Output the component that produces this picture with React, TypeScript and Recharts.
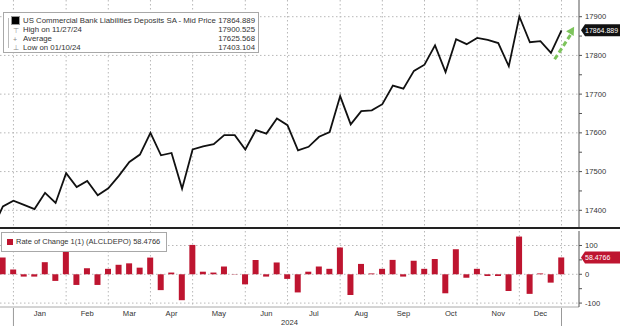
import React from 'react';
import {
  ComposedChart,
  Line,
  Bar,
  XAxis,
  YAxis,
  CartesianGrid,
  ReferenceLine,
  ReferenceDot,
  Label,
} from 'recharts';

// weekly observations (H.8, Wednesdays)
const weeks = [
  '12/13/23', '12/20/23', '12/27/23',
  '01/03/24', '01/10/24', '01/17/24', '01/24/24', '01/31/24',
  '02/07/24', '02/14/24', '02/21/24', '02/28/24',
  '03/06/24', '03/13/24', '03/20/24', '03/27/24',
  '04/03/24', '04/10/24', '04/17/24', '04/24/24',
  '05/01/24', '05/08/24', '05/15/24', '05/22/24', '05/29/24',
  '06/05/24', '06/12/24', '06/19/24', '06/26/24',
  '07/03/24', '07/10/24', '07/17/24', '07/24/24', '07/31/24',
  '08/07/24', '08/14/24', '08/21/24', '08/28/24',
  '09/04/24', '09/11/24', '09/18/24', '09/25/24',
  '10/02/24', '10/09/24', '10/16/24', '10/23/24', '10/30/24',
  '11/06/24', '11/13/24', '11/20/24', '11/27/24',
  '12/04/24', '12/11/24', '12/18/24', '12/25/24',
];

// deposits, $bn
const deposits = [
  17352, 17410, 17425,
  17414, 17403.1, 17445, 17419, 17496,
  17460, 17476, 17439, 17457,
  17489, 17525, 17544, 17600,
  17542, 17548, 17456, 17557,
  17565, 17571, 17594, 17594, 17557,
  17607, 17598, 17637, 17620,
  17555, 17564, 17590, 17602, 17695,
  17622, 17656, 17658, 17674,
  17722, 17714, 17760, 17776,
  17826, 17757, 17842, 17829, 17845,
  17840, 17832, 17772, 17900.5,
  17834, 17837, 17806.4, 17864.889,
];

// week-on-week change
const rateOfChange = [
  null, 58, 17,
  -8, -8, 42, -23, 81,
  -37, 21, -37, 19,
  33, 38, 23, 58,
  -55, 6, -90, 102,
  9, 6, 27, 1, -35,
  50, -8, 41, -16,
  -63, 9, 27, 19, 93,
  -72, 36, 3, 19,
  50, -8, 47, 19,
  53, -66, 87, -12, 19,
  -6, -6, -58, 131,
  -68, 3, -29, 58.4766,
];

const monthNames = ['Jan', 'Feb', 'Mar', 'Apr', 'May', 'Jun', 'Jul', 'Aug', 'Sep', 'Oct', 'Nov', 'Dec'];
const depositTicks = [17400, 17450, 17500, 17550, 17600, 17650, 17700, 17750, 17800, 17850, 17900];
const depositGrid = [17400, 17500, 17600, 17700, 17800, 17900];
const rocTicks = [-100, -50, 0, 50, 100];
const rocGrid = [-100, 0, 100];

const rows = weeks.map((d, i) => ({
  n: i - 1,
  date: d,
  deposits: deposits[i],
  roc: rateOfChange[i],
}));

// a gridline sits on the last week of every month
const monthEdges = rows
  .filter((r, i) => !rows[i + 1] || rows[i + 1].date.slice(0, 2) !== r.date.slice(0, 2))
  .map((r) => r.n)
  .filter((n) => n >= 0);
const monthMids = monthEdges.slice(1).map((e, i) => (e + monthEdges[i]) / 2);
const yearEdges = [monthEdges[0], monthEdges[monthEdges.length - 1]];

const X_DOMAIN: [number, number] = [-0.275, 54.66];
const TOP_DOMAIN: [number, number] = [17354.3, 17943.1];
const BOT_DOMAIN: [number, number] = [-113.6, 150.3];
const FONT = '"Liberation Sans", Arial, sans-serif';
const GRID = '#b8b8b8';
const AXIS = '#555';

const lastDeposit = deposits[deposits.length - 1];
const lastRoc = rateOfChange[rateOfChange.length - 1] as number;

const AxisTick = (props: any) => {
  const { x, y, payload } = props;
  if (payload.value % 100 !== 0) return null;
  return (
    <text x={x} y={y + 2.6} fontSize={7.6} fill="#333" fontFamily={FONT}>
      {payload.value}
    </text>
  );
};

const MonthTick = (props: any) => {
  const { x, y, payload } = props;
  if (yearEdges.includes(payload.value)) {
    return <line x1={x} x2={x} y1={y + 1} y2={y + 21} stroke="#999" strokeWidth={1} />;
  }
  const idx = monthMids.indexOf(payload.value);
  return (
    <text x={x} y={y + 9} textAnchor="middle" fontSize={7.6} fill="#333" fontFamily={FONT}>
      {monthNames[idx]}
    </text>
  );
};

const valueTag = (text: string, fill: string) => (props: any) => {
  const { viewBox } = props;
  const x0 = viewBox.x + viewBox.width + 2;
  const y = viewBox.y;
  const x1 = 620;
  return (
    <g>
      <path
        d={`M${x0},${y} L${x0 + 4},${y - 6} L${x1},${y - 6} L${x1},${y + 6} L${x0 + 4},${y + 6} Z`}
        fill={fill}
      />
      <text x={x0 + 4} y={y + 2.6} fontSize={7} fill="#fff" fontFamily={FONT}>
        {text}
      </text>
    </g>
  );
};

const ArrowHead = (props: any) => {
  const { cx, cy } = props;
  if (cx == null || cy == null) return null;
  const ux = 0.533;
  const uy = -0.846;
  const bx = cx - 8 * ux;
  const by = cy - 8 * uy;
  const px = -uy * 4.5;
  const py = ux * 4.5;
  return (
    <polygon
      points={`${cx},${cy} ${bx + px},${by + py} ${bx - px},${by - py}`}
      fill="#7dc45c"
    />
  );
};

const legendRow: React.CSSProperties = {
  position: 'absolute',
  left: 19,
  right: 3,
  height: 9,
  lineHeight: '9px',
  display: 'flex',
  justifyContent: 'space-between',
  whiteSpace: 'nowrap',
};

export default function App() {
  return (
    <div
      style={{
        position: 'absolute',
        left: 0,
        top: 0,
        width: 620,
        height: 326,
        background: '#fff',
        overflow: 'hidden',
        fontFamily: FONT,
      }}
    >
      <div style={{ position: 'absolute', left: 0, top: 0 }}>
        <ComposedChart width={620} height={228} data={rows} margin={{ top: 0, right: 0, bottom: 0, left: 0 }}>
          <CartesianGrid
            stroke={GRID}
            strokeDasharray="1.5 2.5"
            horizontalValues={depositGrid}
            verticalValues={monthEdges}
          />
          <XAxis type="number" dataKey="n" domain={X_DOMAIN} allowDataOverflow hide />
          <YAxis
            orientation="right"
            width={41}
            domain={TOP_DOMAIN}
            allowDataOverflow
            ticks={depositTicks}
            interval={0}
            tickSize={3}
            tickMargin={3}
            axisLine={{ stroke: AXIS }}
            tickLine={{ stroke: AXIS }}
            tick={<AxisTick />}
          />
          <Line
            type="linear"
            dataKey="deposits"
            stroke="#111"
            strokeWidth={1.8}
            dot={false}
            activeDot={false}
            isAnimationActive={false}
          />
          <ReferenceLine
            segment={[
              { x: 52.35, y: 17790 },
              { x: 53.85, y: 17853 },
            ]}
            stroke="#7dc45c"
            strokeWidth={3}
            strokeDasharray="5 3"
            ifOverflow="visible"
          />
          <ReferenceDot x={54.2} y={17874} r={0} shape={<ArrowHead />} ifOverflow="visible" />
          <ReferenceLine
            y={lastDeposit}
            stroke="none"
            label={valueTag(lastDeposit.toFixed(3), '#111')}
          />
        </ComposedChart>
      </div>

      <div style={{ position: 'absolute', left: 0, top: 227, width: 620, height: 2, background: '#222' }} />

      <div style={{ position: 'absolute', left: 0, top: 230 }}>
        <ComposedChart width={620} height={96} data={rows} margin={{ top: 1, right: 0, bottom: 0, left: 0 }}>
          <CartesianGrid
            stroke={GRID}
            strokeDasharray="1.5 2.5"
            horizontalValues={rocGrid}
            verticalValues={monthEdges}
          />
          <XAxis
            type="number"
            dataKey="n"
            domain={X_DOMAIN}
            allowDataOverflow
            ticks={[...monthMids, ...yearEdges]}
            interval={0}
            height={19}
            tickSize={0}
            tickMargin={0}
            tickLine={false}
            axisLine={{ stroke: '#aaa' }}
            tick={<MonthTick />}
          >
            <Label
              content={(p: any) => (
                <text
                  x={p.viewBox.x + p.viewBox.width / 2}
                  y={p.viewBox.y + 17.5}
                  textAnchor="middle"
                  fontSize={7.6}
                  fill="#333"
                  fontFamily={FONT}
                >
                  2024
                </text>
              )}
            />
          </XAxis>
          <YAxis
            orientation="right"
            width={41}
            domain={BOT_DOMAIN}
            allowDataOverflow
            ticks={rocTicks}
            interval={0}
            tickSize={3}
            tickMargin={3}
            axisLine={{ stroke: AXIS }}
            tickLine={{ stroke: AXIS }}
            tick={<AxisTick />}
          />
          <Bar dataKey="roc" fill="#be1530" barSize={6} isAnimationActive={false} />
          <ReferenceLine y={lastRoc} stroke="none" label={valueTag(String(lastRoc), '#be1530')} />
        </ComposedChart>
      </div>

      {/* top legend */}
      <div
        style={{
          position: 'absolute',
          left: 3,
          top: 12,
          width: 254,
          height: 39,
          border: '1px solid #a8a8a8',
          background: '#fff',
          fontSize: 7.8,
          color: '#333',
        }}
      >
        <div style={{ position: 'absolute', left: 4, top: 5, width: 1, height: 30, background: '#bbb' }} />
        <div
          style={{
            position: 'absolute',
            left: 8,
            top: 4,
            width: 7,
            height: 7,
            background: '#000',
            outline: '1px solid #999',
          }}
        />
        <div style={{ position: 'absolute', left: 9, top: 13, fontSize: 7, color: '#888', lineHeight: '9px' }}>⊤</div>
        <div style={{ position: 'absolute', left: 9, top: 22, fontSize: 7, color: '#888', lineHeight: '9px' }}>+</div>
        <div style={{ position: 'absolute', left: 9, top: 30, fontSize: 7, color: '#888', lineHeight: '9px' }}>⊥</div>
        <div style={{ ...legendRow, top: 3 }}>
          <span>US Commercial Bank Liabilities Deposits SA - Mid Price</span>
          <span>17864.889</span>
        </div>
        <div style={{ ...legendRow, top: 12 }}>
          <span>High on 11/27/24</span>
          <span>17900.525</span>
        </div>
        <div style={{ ...legendRow, top: 21 }}>
          <span>Average</span>
          <span>17625.568</span>
        </div>
        <div style={{ ...legendRow, top: 30 }}>
          <span>Low on 01/10/24</span>
          <span>17403.104</span>
        </div>
      </div>

      {/* bottom legend */}
      <div
        style={{
          position: 'absolute',
          left: 1,
          top: 232,
          width: 164,
          height: 18,
          border: '1px solid #a8a8a8',
          background: '#fff',
          fontSize: 7.5,
          color: '#333',
          whiteSpace: 'nowrap',
        }}
      >
        <div style={{ position: 'absolute', left: 5, top: 6, width: 6, height: 6, background: '#be1530' }} />
        <div style={{ position: 'absolute', left: 14, top: 4, lineHeight: '10px' }}>
          Rate of Change 1(1) (ALCLDEPO) 58.4766
        </div>
      </div>
    </div>
  );
}
